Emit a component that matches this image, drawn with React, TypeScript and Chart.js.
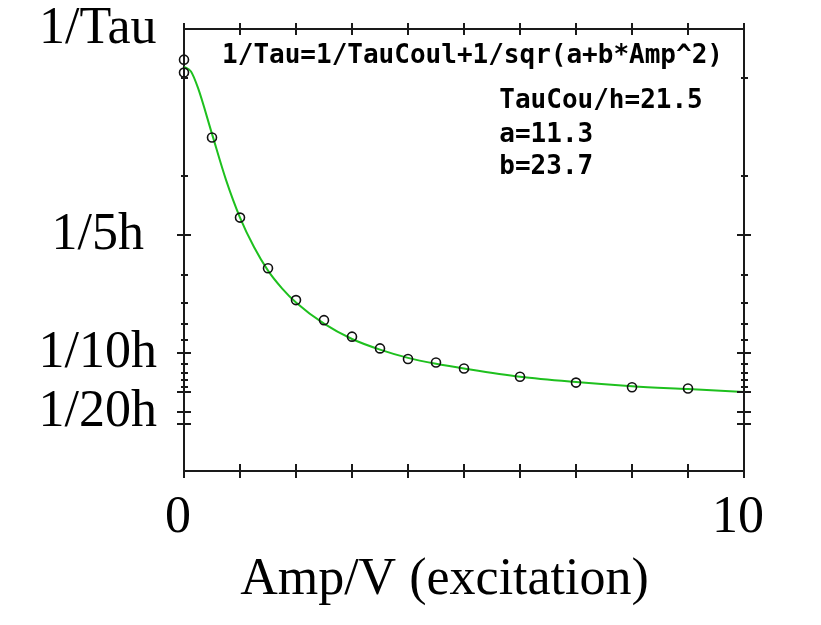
import React, { useEffect, useRef } from 'react';
import { Chart, registerables } from 'chart.js';

Chart.register(...registerables);

// Measured points (circles)
const ampMeasured = [0, 0, 0.5, 1, 1.5, 2, 2.5, 3, 3.5, 4, 4.5, 5, 6, 7, 8, 9];
const invTauMeasured = [0.349, 0.338, 0.283, 0.215, 0.172, 0.145, 0.128, 0.114, 0.104, 0.095, 0.092, 0.087, 0.080, 0.075, 0.071, 0.070];

// Fitted curve (green)
const ampFit = [0, 0.125, 0.25, 0.5, 0.75, 1, 1.25, 1.5, 1.75, 2, 2.5, 3, 3.5, 4, 4.5, 5, 6, 7, 8, 9, 10];
const invTauFit = [0.343, 0.339, 0.325, 0.286, 0.247, 0.215, 0.190, 0.170, 0.155, 0.143, 0.125, 0.112, 0.103, 0.096, 0.091, 0.087, 0.080, 0.0755, 0.072, 0.0695, 0.067];

// Axes
const xMin = 0;
const xMax = 10;
const yMin = 0;
const yMax = 0.375;
const xTickValues = [0, 1, 2, 3, 4, 5, 6, 7, 8, 9, 10];
const xLabelValues = [0, 10];
const yLabelValues = [0.05, 0.1, 0.2, 0.375];
const yLabelTexts = ['1/20h', '1/10h', '1/5h', '1/Tau'];
const yMajorTicks = [1 / 5, 1 / 10, 1 / 15, 1 / 20, 1 / 25];
const yMinorTicks = [1 / 3, 1 / 4, 1 / 6, 1 / 7, 1 / 8, 1 / 9, 1 / 11, 1 / 12, 1 / 13, 1 / 14];
const xTitle = 'Amp/V (excitation)   ';

// Annotations (anchored in data coordinates)
const formulaText = '1/Tau=1/TauCoul+1/sqr(a+b*Amp^2)';
const formulaAnchor = { x: 0.68, y: 0.3458 };
const paramLines = ['TauCou/h=21.5', 'a=11.3', 'b=23.7'];
const paramAnchorX = 5.63;
const paramBaselines = [0.3076, 0.279, 0.2517];

const AXIS = '#1a1a1a';
const GREEN = '#1ec01e';
const SERIF = '"Liberation Serif", "Times New Roman", serif';
const MONO = '"DejaVu Sans Mono", monospace';

const tickPlugin = {
  id: 'crossTicks',
  afterDraw(chart: any) {
    const { ctx, chartArea, scales } = chart;
    const xs = scales.x;
    const ys = scales.y;
    const line = (x1: number, y1: number, x2: number, y2: number) => {
      ctx.beginPath();
      ctx.moveTo(x1, y1);
      ctx.lineTo(x2, y2);
      ctx.stroke();
    };
    ctx.save();
    ctx.strokeStyle = AXIS;
    ctx.lineWidth = 2;
    xTickValues.forEach((v) => {
      const px = Math.round(xs.getPixelForValue(v));
      line(px, chartArea.bottom - 7, px, chartArea.bottom + 7);
      line(px, chartArea.top - 6, px, chartArea.top + 6);
    });
    yMajorTicks.forEach((v) => {
      const py = Math.round(ys.getPixelForValue(v));
      line(chartArea.left - 7, py, chartArea.left + 7, py);
      line(chartArea.right - 7, py, chartArea.right + 7, py);
    });
    yMinorTicks.forEach((v) => {
      const py = Math.round(ys.getPixelForValue(v));
      line(chartArea.left - 3, py, chartArea.left + 4, py);
      line(chartArea.right - 3, py, chartArea.right + 4, py);
    });

    ctx.fillStyle = '#000';
    ctx.font = `bold 26px ${MONO}`;
    ctx.textAlign = 'left';
    ctx.textBaseline = 'alphabetic';
    ctx.fillText(formulaText, xs.getPixelForValue(formulaAnchor.x), ys.getPixelForValue(formulaAnchor.y));
    paramLines.forEach((t, i) => {
      ctx.fillText(t, xs.getPixelForValue(paramAnchorX), ys.getPixelForValue(paramBaselines[i]));
    });
    ctx.restore();
  },
};

const hiddenTickGrid = (len: number) => ({
  display: true,
  drawOnChartArea: false,
  drawTicks: true,
  tickLength: len,
  tickColor: 'rgba(0,0,0,0)',
  color: 'rgba(0,0,0,0)',
});

export default function App() {
  const canvasRef = useRef<HTMLCanvasElement | null>(null);

  useEffect(() => {
    const canvas = canvasRef.current;
    if (!canvas) return;
    const chart = new Chart(canvas, {
      type: 'scatter',
      data: {
        datasets: [
          {
            label: 'measured',
            data: ampMeasured.map((x, i) => ({ x, y: invTauMeasured[i] })),
            showLine: false,
            pointRadius: 4.5,
            pointBorderWidth: 1.6,
            pointBorderColor: '#111',
            pointBackgroundColor: 'rgba(0,0,0,0)',
            clip: false,
            order: 1,
          } as any,
          {
            label: 'fit',
            data: ampFit.map((x, i) => ({ x, y: invTauFit[i] })),
            showLine: true,
            borderColor: GREEN,
            borderWidth: 2,
            pointRadius: 0,
            cubicInterpolationMode: 'monotone',
            order: 2,
          } as any,
        ],
      },
      options: {
        responsive: false,
        animation: false,
        layout: { padding: 0, autoPadding: false },
        plugins: {
          legend: { display: false },
          tooltip: { enabled: false },
        },
        scales: {
          x: {
            type: 'linear',
            position: 'bottom',
            min: xMin,
            max: xMax,
            afterBuildTicks: (s: any) => {
              s.ticks = xLabelValues.map((v) => ({ value: v }));
            },
            afterFit: (s: any) => {
              s.height = 154;
            },
            ticks: {
              autoSkip: false,
              maxRotation: 0,
              padding: 0,
              labelOffset: -6,
              color: '#000',
              font: { family: SERIF, size: 52, lineHeight: 1 },
              callback: (v: any) => String(v),
            },
            grid: hiddenTickGrid(21),
            border: { display: true, color: AXIS, width: 2 },
            title: {
              display: true,
              text: xTitle,
              color: '#000',
              font: { family: SERIF, size: 52, lineHeight: 1 },
              padding: { top: 0, bottom: 19 },
            },
          },
          xTop: {
            type: 'linear',
            position: 'top',
            min: xMin,
            max: xMax,
            ticks: { display: false },
            grid: { display: false },
            border: { display: true, color: AXIS, width: 2 },
            afterFit: (s: any) => {
              s.height = 29;
            },
          },
          y: {
            type: 'linear',
            position: 'left',
            min: yMin,
            max: yMax,
            afterBuildTicks: (s: any) => {
              s.ticks = yLabelValues.map((v) => ({ value: v }));
            },
            afterFit: (s: any) => {
              s.width = 184;
            },
            ticks: {
              autoSkip: false,
              crossAlign: 'center',
              padding: 0,
              color: '#000',
              font: { family: SERIF, size: 52, lineHeight: 1 },
              callback: (v: any) => {
                const i = yLabelValues.indexOf(Number(v));
                return i >= 0 ? yLabelTexts[i] : '';
              },
            },
            grid: hiddenTickGrid(27),
            border: { display: true, color: AXIS, width: 2 },
          },
          yRight: {
            type: 'linear',
            position: 'right',
            min: yMin,
            max: yMax,
            ticks: { display: false },
            grid: { display: false },
            border: { display: true, color: AXIS, width: 2 },
            afterFit: (s: any) => {
              s.width = 77;
            },
          },
        },
      } as any,
      plugins: [tickPlugin],
    });
    return () => chart.destroy();
  }, []);

  return (
    <div style={{ position: 'fixed', left: 0, top: 0, width: 821, height: 625, background: '#fff' }}>
      <canvas ref={canvasRef} width={821} height={625} />
    </div>
  );
}
